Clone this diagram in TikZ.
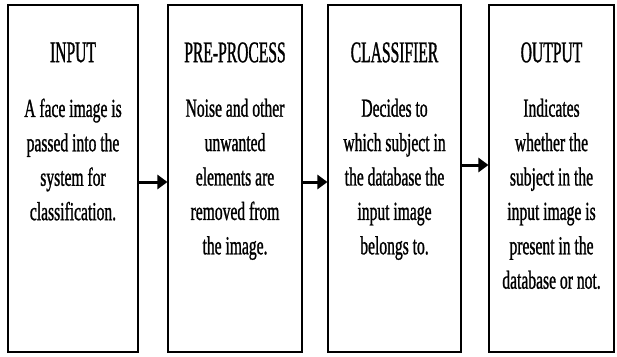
\documentclass[tikz,border=0pt]{standalone}
\usepackage{fontspec}
\usepackage{tikz}
\usetikzlibrary{arrows.meta}
\newfontfamily\boxfont[FakeStretch=0.6, FakeBold=1]{Liberation Serif}
\newfontfamily\headfont[FakeStretch=0.52, FakeBold=1]{Liberation Serif}
\tikzset{
	stage/.style={shape=rectangle, draw=black, line width=1.1pt, inner sep=0, minimum height=347pt},
	stagetitle/.style={anchor=center, inner sep=0, font=\headfont\fontsize{30}{30}\selectfont},
	stagetext/.style={anchor=north, inner sep=0, align=center, font=\boxfont\fontsize{26}{34.4}\selectfont},
	flow/.style={-{Triangle[length=10pt, width=14pt]}, line width=3pt}
}
\begin{document}
\begin{tikzpicture}[x=1pt, y=-1pt]
	\useasboundingbox (0, 0) rectangle (617, 356);
	% Boxes, texts and arrows:
	\node[stage, minimum width=130pt](Input) at (73, 178.5){};
	\node[stage, minimum width=134pt](PreProc) at (235, 178.5){};
	\node[stage, minimum width=133pt](Classif) at (394.5, 178.5){};
	\node[stage, minimum width=125pt](Output) at (551.5, 178.5){};
	\node[stagetitle](InputT) at ([yshift=-48pt]Input.north){INPUT};
	\node[stagetitle](PreProcT) at ([yshift=-48pt]PreProc.north){PRE-PROCESS};
	\node[stagetitle](ClassifT) at ([yshift=-48pt]Classif.north){CLASSIFIER};
	\node[stagetitle](OutputT) at ([yshift=-48pt]Output.north){OUTPUT};
	\node[stagetext](InputB) at ([yshift=-94pt]Input.north){A face image is\\passed into the\\system for\\classification.};
	\node[stagetext](PreProcB) at ([yshift=-94pt]PreProc.north){Noise and other\\unwanted\\elements are\\removed from\\the image.};
	\node[stagetext](ClassifB) at ([yshift=-94pt]Classif.north){Decides to\\which subject in\\the database the\\input image\\belongs to.};
	\node[stagetext](OutputB) at ([yshift=-94pt]Output.north){Indicates\\whether the\\subject in the\\input image is\\present in the\\database or not.};
	\draw[flow] ([yshift=-3.5pt]Input.east) -- ([yshift=-3.5pt]PreProc.west);
	\draw[flow] ([yshift=-3.5pt]PreProc.east) -- ([yshift=-3.5pt]Classif.west);
	\draw[flow] ([yshift=13.5pt]Classif.east) -- ([yshift=13.5pt]Output.west);
\end{tikzpicture}
\end{document}
